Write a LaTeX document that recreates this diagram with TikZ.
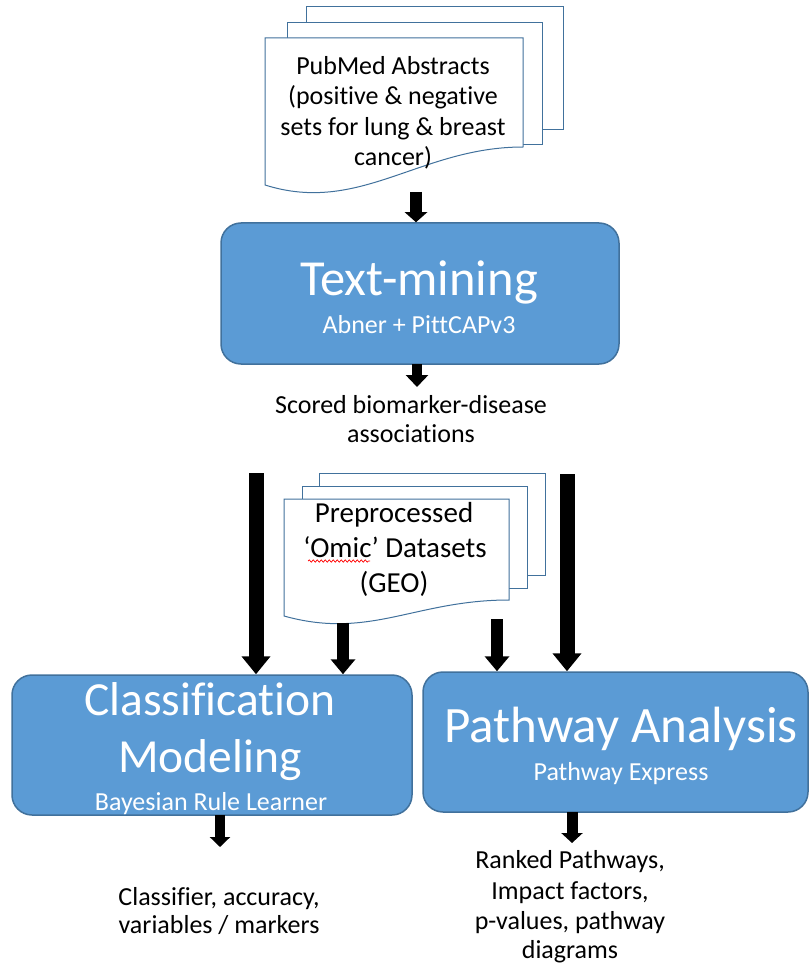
\documentclass[tikz,border=0pt]{standalone}
\usepackage{fontspec}
\setmainfont{Carlito}[Ligatures={NoCommon,NoRare,NoContextual}]
\usetikzlibrary{arrows.meta,decorations.pathmorphing}
\definecolor{boxfill}{HTML}{5B9BD5}
\definecolor{boxline}{HTML}{41719C}
\definecolor{pageline}{HTML}{41719C}
\tikzset{
  procbox/.style={draw=boxline, line width=1.5pt, fill=boxfill, rounded corners=20pt, inner sep=0pt},
  page/.style={draw=pageline, line width=1pt, fill=white},
  txt/.style={anchor=base, inner sep=0pt, font=\fontsize{26}{31}\selectfont},
  wtxt/.style={txt, text=white},
  bigtxt/.style={wtxt, font=\fontsize{50.5}{60}\selectfont},
  omictxt/.style={txt, font=\fontsize{29}{35}\selectfont},
  blockarrow/.style n args={3}{draw=black, line width=#1,
    -{Triangle[width=#2, length=#3]}},
}
\begin{document}
\begin{tikzpicture}[x=1pt, y=-1pt]
\useasboundingbox (0,0) rectangle (810,968);

% --- stacked document: PubMed abstracts
\draw[page] (306,7) rectangle (563,130);
\draw[page] (287,23) rectangle (542,145);
\draw[page] (265,38) -- (523,38) -- (523,147)
  .. controls (420,147) and (360,215) .. (265,185) -- cycle;
\node[txt] (pm1) at (393,75)  {PubMed Abstracts};
\node[txt] (pm2) at (393,105) {(positive \& negative};
\node[txt] (pm3) at (393,136) {sets for lung \& breast};
\node[txt] (pm4) at (393,166) {cancer)};

% --- text-mining step
\node[procbox, minimum width=398pt, minimum height=141pt] (tm) at (420,293.5) {};
\node[bigtxt] (tmt) at (419,295) {Text-mining};
\node[wtxt] (tms) at (419,333) {Abner + PittCAPv3};

\node[txt] (sc1) at (411,413) {Scored biomarker-disease};
\node[txt] (sc2) at (411,442) {associations};

% --- stacked document: omic datasets
\draw[page] (319,473) rectangle (545,575);
\draw[page] (302,486) rectangle (527,588);
\draw[page] (284,499) -- (509,499) -- (509,600)
  .. controls (415,600) and (370,640) .. (284,616) -- cycle;
\node[omictxt] (om1) at (394,522) {Preprocessed};
\node[omictxt] (om2) at (395,557) {‘Omic’ Datasets};
\node[omictxt] (om3) at (394,592) {(GEO)};
\draw[red, line width=0.7pt, decorate,
  decoration={snake, amplitude=1.2pt, segment length=4pt}] (308,561) -- (370,561);

% --- classification step
\node[procbox, minimum width=400pt, minimum height=140pt] (cm) at (212,745) {};
\node[bigtxt, font=\fontsize{47.5}{57}\selectfont] (cmt1) at (210,715) {Classification};
\node[bigtxt, font=\fontsize{47.5}{57}\selectfont] (cmt2) at (210,772) {Modeling};
\node[wtxt] (cms) at (211,810) {Bayesian Rule Learner};

\node[txt] (co1) at (219,905) {Classifier, accuracy,};
\node[txt] (co2) at (219,933) {variables / markers};

% --- pathway step
\node[procbox, minimum width=385pt, minimum height=140pt] (pa) at (615.5,742) {};
\node[bigtxt, font=\fontsize{51}{61}\selectfont] (pat) at (621,742) {Pathway Analysis};
\node[wtxt] (pas) at (621,780) {Pathway Express};

\node[txt] (po1) at (570,868) {Ranked Pathways,};
\node[txt] (po2) at (570,899) {Impact factors,};
\node[txt] (po3) at (570,929) {p-values, pathway};
\node[txt] (po4) at (570,958) {diagrams};

% --- arrow start points
\coordinate (s1) at (416,192);
\coordinate (s2) at (417,364);
\coordinate (s3) at (256,473);
\coordinate (s4) at (343,623);
\coordinate (s5) at (497,619);
\coordinate (s6) at (567,474);
\coordinate (s7) at (220,815);
\coordinate (e7) at (220,847);
\coordinate (s8) at (572,812);
\coordinate (e8) at (572,843);
\coordinate (e2) at (417,387);

% --- block arrows
\draw[blockarrow={12pt}{22pt}{10pt}] (s1) -- (s1 |- tm.north);
\draw[blockarrow={10pt}{22pt}{12pt}] (s2) -- (e2);
\draw[blockarrow={15pt}{28pt}{18pt}] (s3) -- (s3 |- cm.north);
\draw[blockarrow={12pt}{24pt}{15pt}] (s4) -- (s4 |- cm.north);
\draw[blockarrow={12pt}{24pt}{15pt}] (s5) -- (s5 |- pa.north);
\draw[blockarrow={15pt}{28pt}{18pt}] (s6) -- (s6 |- pa.north);
\draw[blockarrow={10pt}{20pt}{10pt}] (s7) -- (e7);
\draw[blockarrow={11pt}{21pt}{10pt}] (s8) -- (e8);
\end{tikzpicture}
\end{document}
